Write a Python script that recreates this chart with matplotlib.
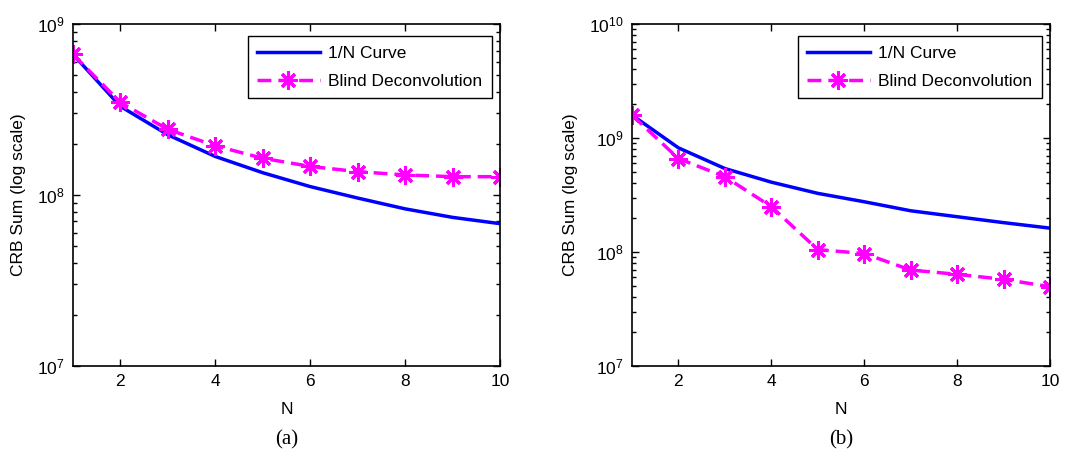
import matplotlib
matplotlib.use('Agg')
import matplotlib.pyplot as plt
from matplotlib.ticker import LogLocator, NullFormatter, FixedLocator

# data
N = [1, 2, 3, 4, 5, 6, 7, 8, 9, 10]

curve_a = [6.65e8, 3.3e8, 2.25e8, 1.68e8, 1.35e8, 1.12e8, 9.6e7, 8.3e7, 7.4e7, 6.8e7]
blind_a = [6.65e8, 3.48e8, 2.42e8, 1.94e8, 1.64e8, 1.47e8, 1.37e8, 1.31e8, 1.28e8, 1.28e8]

curve_b = [1.59e9, 8.2e8, 5.4e8, 4.1e8, 3.27e8, 2.76e8, 2.3e8, 2.04e8, 1.81e8, 1.62e8]
blind_b = [1.59e9, 6.6e8, 4.58e8, 2.5e8, 1.05e8, 9.7e7, 6.95e7, 6.37e7, 5.76e7, 4.96e7]

panels = [
    ("(a)", curve_a, blind_a, (1e7, 1e9), [0.0685, 0.1956, 0.401, 0.7516]),
    ("(b)", curve_b, blind_b, (1e7, 1e10), [0.5934, 0.1956, 0.3925, 0.7516]),
]

plt.rcParams['font.family'] = 'Liberation Sans'
fs = 12.5

fig = plt.figure(figsize=(10.65, 4.55), dpi=100)

for tag, curve, blind, ylim, pos in panels:
    ax = fig.add_axes(pos)
    ax.plot(N, curve, color='#0000FF', lw=2.5, label='1/N Curve')
    ax.plot(N, blind, color='#FF00FF', lw=2.5, ls='--', dashes=(4, 2),
            marker=(8, 2, 0), ms=13, mew=2.2, label='Blind Deconvolution')
    ax.set_yscale('log')
    ax.set_xlim(1, 10)
    ax.set_ylim(*ylim)
    ax.xaxis.set_major_locator(FixedLocator([2, 4, 6, 8, 10]))
    ax.yaxis.set_major_locator(LogLocator(base=10, numticks=10))
    ax.yaxis.set_minor_locator(LogLocator(base=10, subs=range(2, 10), numticks=20))
    ax.yaxis.set_minor_formatter(NullFormatter())
    ax.tick_params(which='both', direction='in', top=True, right=True, labelsize=fs)
    ax.tick_params(which='major', length=5, width=1, pad=6)
    ax.tick_params(which='minor', length=3, width=1)
    for s in ax.spines.values():
        s.set_linewidth(1.2)
    ax.set_xlabel('N', fontsize=fs, labelpad=9)
    ax.set_ylabel('CRB Sum (log scale)', fontsize=fs, labelpad=8)
    leg = ax.legend(loc='upper right', bbox_to_anchor=(0.981, 0.965),
                    borderaxespad=0, fontsize=fs, fancybox=False,
                    edgecolor='black', framealpha=1, handlelength=3.6,
                    handletextpad=0.5, borderpad=0.55, labelspacing=0.75)
    leg.get_frame().set_linewidth(1.0)
    x0, y0, w, h = pos
    fig.text(x0 + w / 2, 1 - 440 / 455, tag, ha='center', va='center',
             fontsize=15, family='Liberation Serif')

fig.savefig('out.png', dpi=100)
